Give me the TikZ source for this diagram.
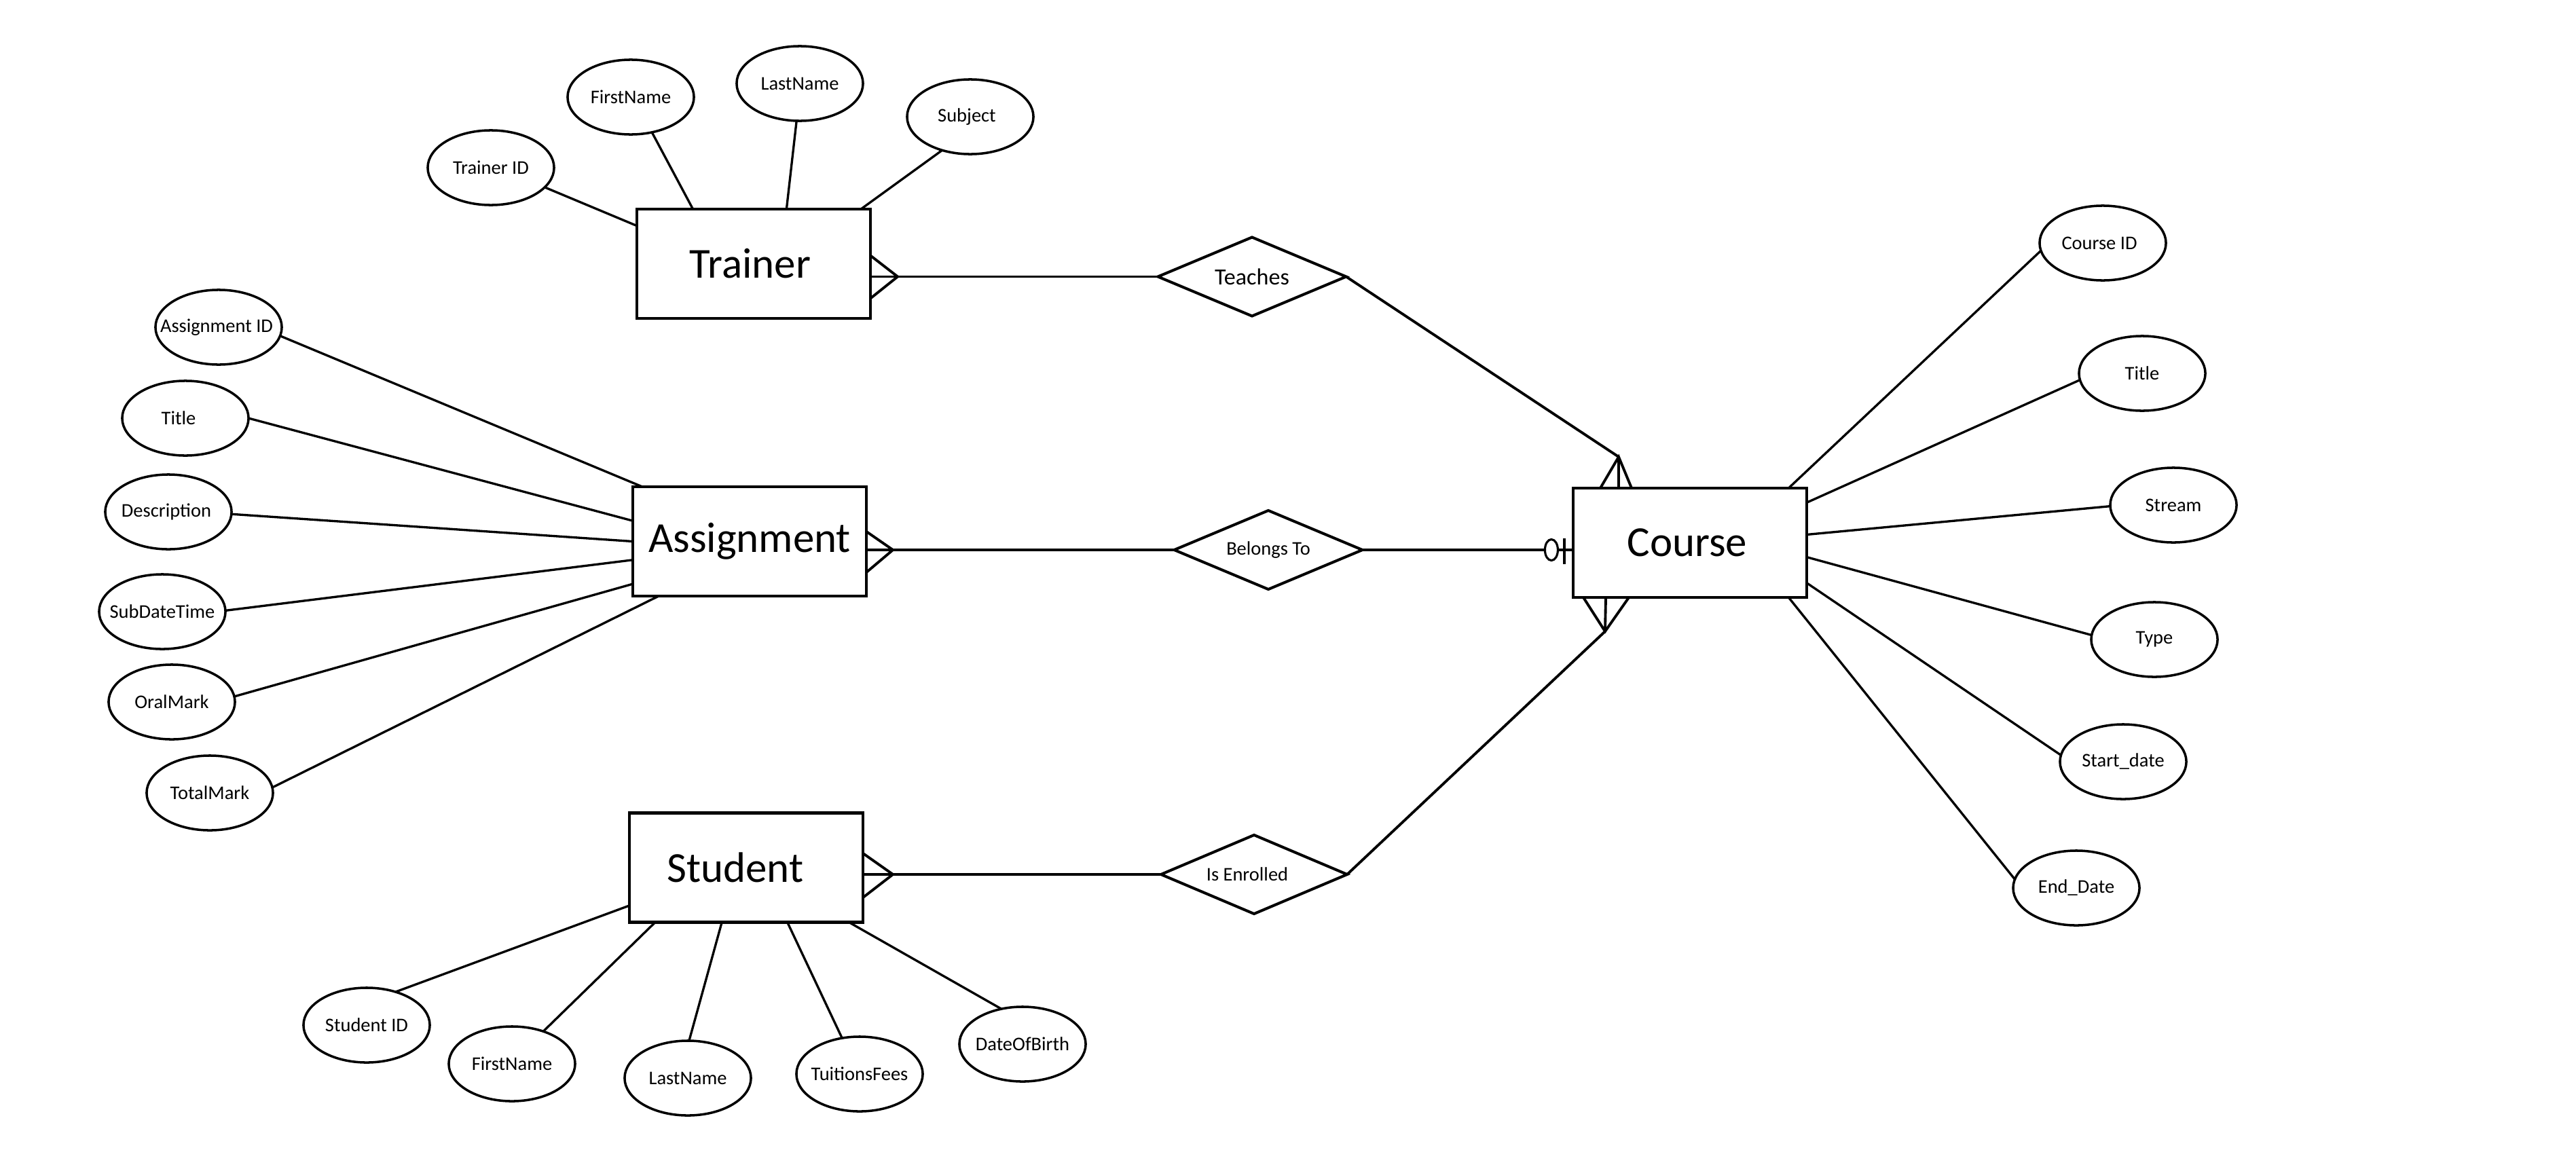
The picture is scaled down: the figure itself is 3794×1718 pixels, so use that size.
\documentclass[tikz,border=0pt]{standalone}
\usepackage{fontspec}
\setmainfont{Carlito}
\usetikzlibrary{shapes.geometric,calc}
\newcommand\zwbox[1]{\makebox[0pt]{#1}}
\tikzset{
  ent/.style={draw, line width=1.2pt, rectangle, minimum width=3.44cm, minimum height=1.61cm, inner sep=0pt, outer sep=0pt, font=\fontsize{17.9}{20}\selectfont},
  attr/.style={draw, line width=1pt, ellipse, minimum width=1.86cm, minimum height=1.10cm, inner sep=0pt, outer sep=0pt, font=\fontsize{8.1}{9}\selectfont},
  rel/.style={draw, line width=1.15pt, diamond, minimum width=2.77cm, minimum height=1.16cm, inner sep=0pt, outer sep=0pt, font=\fontsize{8.1}{9}\selectfont},
  conn/.style={line width=1.1pt, line join=miter},
  aline/.style={line width=0.95pt},
}
\begin{document}
\begin{tikzpicture}[x=0.01cm, y=-0.01cm]
\useasboundingbox (0,0) rectangle (3794,1718);
\fill[white] (0,0) rectangle (3794,1718);

% entities
\node[ent] (trainer) at (1110,388.5) {\zwbox{Trainer\hspace{0.1cm}}};
\node[ent] (assignment) at (1104,797.5) {\zwbox{Assignment}};
\node[ent] (student) at (1099,1278) {\zwbox{Student\hspace{0.32cm}}};
\node[ent] (course) at (2489,799.5) {\zwbox{Course\hspace{0.08cm}}};

% relationships
\node[rel, font=\fontsize{9.7}{11}\selectfont] (teaches) at (1844,407.5) {\zwbox{Teaches}};
\node[rel] (belongs) at (1868,810) {\zwbox{Belongs To}};
\node[rel, minimum width=2.74cm] (enrolled) at (1847,1288) {\zwbox{Is Enrolled\hspace{0.2cm}}};

% trainer attributes
\node[attr] (trid) at (723,247) {\zwbox{Trainer ID}};
\node[attr] (tfn) at (929,143) {\zwbox{FirstName}};
\node[attr] (tln) at (1178,123) {\zwbox{LastName}};
\node[attr] (tsub) at (1429,172) {\zwbox{Subject\hspace{0.1cm}}};

% assignment attributes
\node[attr] (aid) at (322,482) {\zwbox{Assignment ID\hspace{0.06cm}}};
\node[attr] (atitle) at (273,616) {\zwbox{Title\hspace{0.2cm}}};
\node[attr] (adesc) at (248,754) {\zwbox{Description\hspace{0.06cm}}};
\node[attr] (asub) at (239,901) {\zwbox{SubDateTime}};
\node[attr] (aoral) at (253,1034) {\zwbox{OralMark}};
\node[attr] (atotal) at (309,1168) {\zwbox{TotalMark}};

% student attributes
\node[attr] (sid) at (540,1510) {\zwbox{Student ID}};
\node[attr] (sfn) at (754,1567) {\zwbox{FirstName}};
\node[attr] (sln) at (1013,1588) {\zwbox{LastName}};
\node[attr] (sfee) at (1266,1582) {\zwbox{TuitionsFees}};
\node[attr] (sdob) at (1506,1538) {\zwbox{DateOfBirth}};

% course attributes
\node[attr] (cid) at (3097,358) {\zwbox{Course ID\hspace{0.1cm}}};
\node[attr] (ctitle) at (3155,550) {\zwbox{Title}};
\node[attr] (cstream) at (3201,744) {\zwbox{Stream}};
\node[attr] (ctype) at (3173,942) {\zwbox{Type}};
\node[attr] (cstart) at (3127,1122) {\zwbox{Start\_date}};
\node[attr] (cend) at (3058,1308) {\zwbox{End\_Date}};

% attribute lines: trainer
\draw[aline] (trid.-20) -- (trainer.162.7);
\draw[aline] (tfn.-59.3) -- (trainer.138.8);
\draw[aline] (tln.265.8) -- (trainer.59.1);
\draw[aline] (tsub.230.5) -- (trainer.27);

% attribute lines: assignment
\draw[aline] (aid.-8) -- (assignment.153.2);
\draw[aline] (atitle.0) -- (assignment.170.3);
\draw[aline] (adesc.-2) -- (assignment.180.5);
\draw[aline] (asub.1) -- (assignment.189.7);
\draw[aline] (aoral.5) -- (assignment.200.3);
\draw[aline] (atotal.5.6) -- (assignment.211.1);

% attribute lines: student
\draw[aline] (sid.49.4) -- (student.198);
\draw[aline] (sfn.46) -- (student.211.6);
\draw[aline] (sln.88) -- (student.246.4);
\draw[aline] (sfee.116.6) -- (student.307.8);
\draw[aline] (sdob.121) -- (student.332.9);

% attribute lines: course
\draw[aline] (cid.187.3) -- (course.29.2);
\draw[aline] (ctitle.186.2) -- (course.19.1);
\draw[aline] (cstream.181.2) -- (course.4.8);
\draw[aline] (ctype.176.3) -- (course.-7.1);
\draw[aline] (cstart.174.3) -- (course.-19.7);
\draw[aline] (cend.172.4) -- (course.-29);

% Trainer -- Teaches (many)
\coordinate (tA) at (teaches.west -| trainer.east);
\draw[conn] (tA) -- (teaches.west);
\draw[conn] ($(tA)+(0,-31)$) -- ($(tA)+(40,0)$) -- ($(tA)+(0,32)$);

% Assignment -- Belongs To (many)
\coordinate (aA) at (belongs.west -| assignment.east);
\draw[conn] (aA) -- (belongs.west);
\draw[conn] ($(aA)+(0,-27)$) -- ($(aA)+(39,0)$) -- ($(aA)+(0,33)$);

% Student -- Is Enrolled (many)
\coordinate (sA) at (enrolled.west -| student.east);
\draw[conn] (sA) -- (enrolled.west);
\draw[conn] ($(sA)+(0,-31)$) -- ($(sA)+(44,0)$) -- ($(sA)+(0,34)$);

% Teaches -- Course (many, top)
\coordinate (cta) at ($(course.north)+(-105,-46)$);
\draw[conn] (teaches.east) -- (cta);
\draw[conn] ($(course.north)+(-132,0)$) -- (cta) -- ($(course.north)+(-86,0)$);
\draw[conn] (cta) -- ($(course.north)+(-105,0)$);

% Is Enrolled -- Course (many, bottom)
\coordinate (cba) at ($(course.south)+(-125,50)$);
\draw[conn] (enrolled.east) -- (cba);
\draw[conn] ($(course.south)+(-157,0)$) -- (cba) -- ($(course.south)+(-90,0)$);
\draw[conn] (cba) -- ($(course.south)+(-124,0)$);

% Belongs To -- Course (zero or one)
\coordinate (bC) at (belongs.east -| course.west);
\draw[conn] (belongs.east) -- (bC);
\node[draw, ellipse, line width=0.9pt, fill=white, minimum width=0.19cm, minimum height=0.31cm, inner sep=0pt] (zo) at ($(bC)+(-32,0)$) {};
\draw[conn] ($(bC)+(-13,-17)$) -- ++(0,38);
\end{tikzpicture}
\end{document}
